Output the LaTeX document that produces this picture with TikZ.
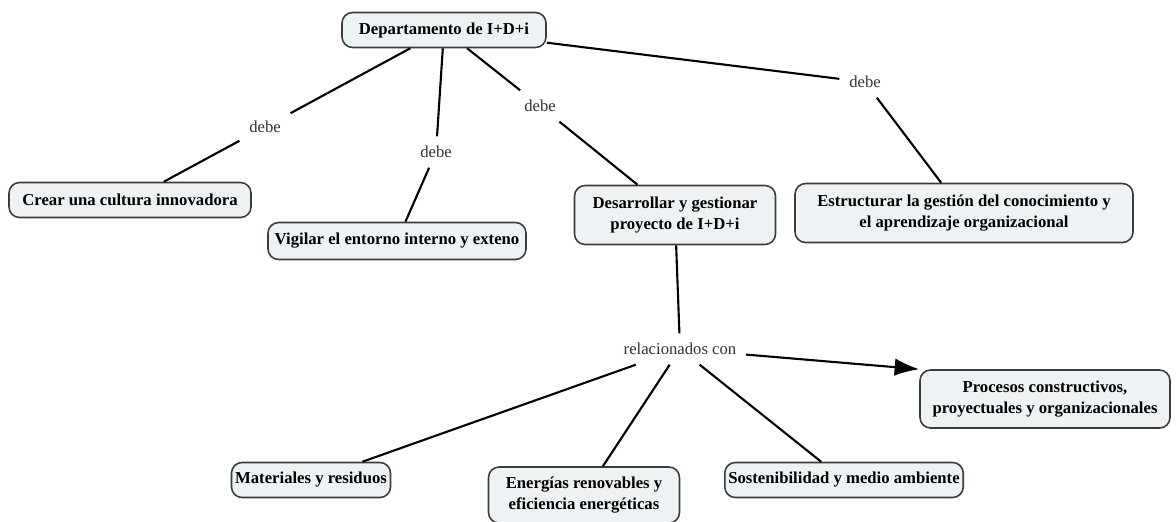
\documentclass[tikz,border=0pt]{standalone}
\usepackage{fontspec}
\setmainfont{Liberation Serif}
\usetikzlibrary{arrows.meta}

\definecolor{boxfill}{HTML}{EDF2F5}
\definecolor{boxline}{HTML}{3C3C3C}
\definecolor{linktext}{HTML}{333333}

\begin{document}
\begin{tikzpicture}[x=0.02cm,y=-0.02cm,line width=1.2pt]
	\tikzstyle{concept}=[draw=boxline,fill=boxfill,line width=0.9pt,rounded corners=6pt,align=center,inner sep=2pt,font=\bfseries\fontsize{9.5}{11.5}\selectfont]
	\tikzstyle{link}=[inner sep=5pt,text=linktext,font=\fontsize{9.5}{11.5}\selectfont]
	\useasboundingbox (0,0) rectangle (1176,521);
	\foreach \name/\x/\y/\w/\h/\txt in {
		dep/444/30/204/35/{Departamento de I+D+i},
		crear/130/200/242/35/{Crear una cultura innovadora},
		vig/397/241/258/37/{Vigilar el entorno interno y exteno},
		des/675/215/201/59/{Desarrollar y gestionar\\proyecto de I+D+i},
		est/964/213/338/59/{Estructurar la gestión del conocimiento y\\el aprendizaje organizacional},
		proc/1045/399/250/58/{Procesos constructivos,\\proyectuales y organizacionales},
		mat/311/480/159/35/{Materiales y residuos},
		ener/584/495/191/56/{Energías renovables y\\eficiencia energéticas},
		sost/844/480/226/35/{Sostenibilidad y medio ambiente}}
		\node[concept,minimum width=\w*0.02cm,minimum height=\h*0.02cm] (\name) at (\x,\y) {\txt};
	\foreach \name/\x/\y in {d1/265/127, d2/436/152, d3/540/106, d4/865/82}
		\node[link] (\name) at (\x,\y) {debe};
	\node[link] (rel) at (680,349) {relacionados con};

	\path
	(dep) edge (d1) (d1) edge (crear)
	(dep) edge (d2) (d2) edge (vig)
	(dep) edge (d3) (d3) edge (des)
	(dep) edge (d4) (d4) edge (est)
	(des) edge (rel)
	(rel) edge (mat)
	(rel) edge (ener)
	(rel) edge (sost)
	(rel) edge[-{Latex[length=14pt,width=10pt]}] (proc.north west);
\end{tikzpicture}
\end{document}
